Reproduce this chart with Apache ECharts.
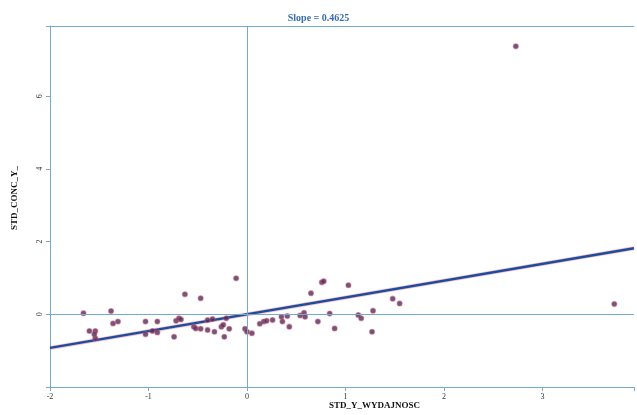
<!DOCTYPE html>
<html>
<head>
<meta charset="utf-8">
<script src="https://cdn.jsdelivr.net/npm/echarts@6/dist/echarts.min.js"></script>
<style>html,body{margin:0;padding:0;background:#fff;}#c{width:637px;height:415px;}</style>
</head>
<body>
<div id="c"></div>
<script>
var xTicks = [-2, -1, 0, 1, 2, 3];
var yTicks = [0, 2, 4, 6];
var stdX = [-1.66,-1.60,-1.54,-1.54,-1.55,-1.38,-1.36,-1.31,-1.03,-1.03,-0.96,-0.91,-0.91,-0.74,-0.72,-0.69,-0.67,-0.63,-0.54,-0.52,-0.47,-0.47,-0.40,-0.40,-0.35,-0.33,-0.26,-0.24,-0.23,-0.21,-0.18,-0.11,-0.02,0.00,0.05,0.13,0.17,0.20,0.26,0.35,0.36,0.41,0.43,0.54,0.58,0.59,0.65,0.72,0.76,0.78,0.84,0.89,1.03,1.13,1.16,1.28,1.27,1.48,1.55,2.73,3.73];
var stdY = [0.03,-0.46,-0.46,-0.66,-0.55,0.09,-0.25,-0.20,-0.20,-0.55,-0.46,-0.20,-0.50,-0.62,-0.18,-0.11,-0.14,0.55,-0.34,-0.39,0.44,-0.40,-0.16,-0.43,-0.13,-0.48,-0.34,-0.29,-0.62,-0.11,-0.40,0.99,-0.40,-0.48,-0.52,-0.26,-0.20,-0.18,-0.16,-0.07,-0.20,-0.05,-0.34,-0.03,0.04,-0.07,0.58,-0.20,0.88,0.91,0.02,-0.39,0.80,-0.02,-0.11,0.10,-0.48,0.43,0.30,7.37,0.28];
var fitX = [-2, 3.93];
var fitY = [-0.925, 1.8176];
var slopeText = 'Slope = 0.4625';

var pts = stdX.map(function(x, i){ return [x, stdY[i]]; });
var fit = fitX.map(function(x, i){ return [x, fitY[i]]; });
var axisCol = '#74aacd';
var chart = echarts.init(document.getElementById('c'));
chart.setOption({
  animation: false,
  backgroundColor: '#fff',
  title: {
    text: slopeText, left: 'center', top: 8,
    textStyle: {fontFamily: 'Liberation Serif', fontSize: 10, fontWeight: 'bold', color: '#3a6db0'}
  },
  grid: {left: 50, right: 0, top: 26, bottom: 28},
  xAxis: [{
    type: 'value', min: -2, max: 3.93, interval: 1,
    axisLine: {show: true, onZero: false, lineStyle: {color: axisCol, width: 1}},
    axisTick: {show: true, length: 4, lineStyle: {color: axisCol}},
    axisLabel: {fontFamily: 'Liberation Serif', fontSize: 8, color: '#333', margin: 6,
      formatter: function(v){ return xTicks.indexOf(Math.round(v)) >= 0 ? String(Math.round(v)) : ''; }},
    splitLine: {show: false}
  }, {
    type: 'value', position: 'top', min: -2, max: 3.93,
    axisLine: {show: true, onZero: false, lineStyle: {color: axisCol, width: 1}},
    axisTick: {show: false}, axisLabel: {show: false}, splitLine: {show: false}
  }],
  yAxis: {
    type: 'value', min: -2, max: 7.93, interval: 2,
    axisLine: {show: true, onZero: false, lineStyle: {color: axisCol, width: 1}},
    axisTick: {show: true, length: 4, lineStyle: {color: axisCol}},
    axisLabel: {fontFamily: 'Liberation Serif', fontSize: 8, color: '#333', rotate: 90, margin: 6,
      formatter: function(v){ return yTicks.indexOf(Math.round(v)) >= 0 ? String(Math.round(v)) : ''; }},
    splitLine: {show: false}
  },
  graphic: [
    {type: 'text', left: 329, top: 401, style: {text: 'STD_Y_WYDAJNOSC', font: 'bold 9px "Liberation Serif"', fill: '#111'}},
    {type: 'text', x: 10, y: 230, rotation: Math.PI / 2, style: {text: 'STD_CONC_Y_', font: 'bold 9px "Liberation Serif"', fill: '#111'}}
  ],
  series: [
    {
      type: 'scatter', data: pts, symbol: 'circle', symbolSize: 5, z: 3,
      itemStyle: {color: '#4a2f5c', borderColor: 'rgba(200,80,110,0.6)', borderWidth: 1.2},
      markLine: {
        silent: true, symbol: 'none', label: {show: false},
        lineStyle: {color: axisCol, width: 1, type: 'solid'},
        data: [{xAxis: 0}, {yAxis: 0}]
      }
    },
    {
      type: 'line', data: fit, showSymbol: false, z: 2,
      lineStyle: {color: 'rgba(230,120,140,0.45)', width: 4}
    },
    {
      type: 'line', data: fit, showSymbol: false, z: 2,
      lineStyle: {color: '#1c4d9c', width: 2.4}
    }
  ]
});
</script>
</body>
</html>
